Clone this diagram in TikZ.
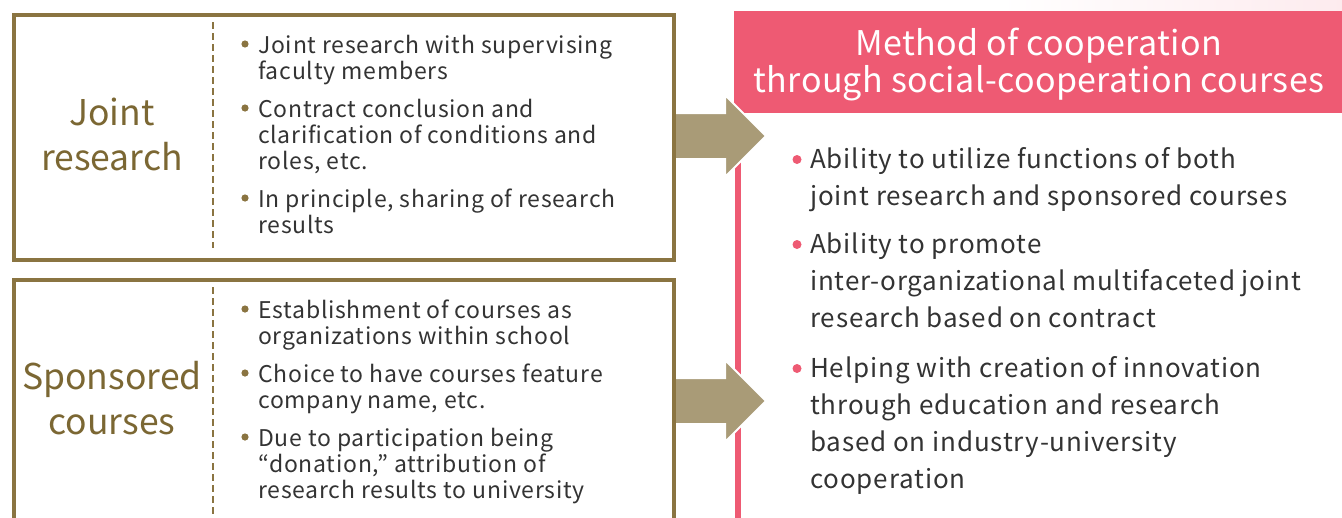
\documentclass[tikz,border=0pt]{standalone}
\usepackage{fontspec}
\setmainfont{Noto Sans CJK JP}
\newfontfamily\bodyf{Noto Sans CJK JP}[LetterSpace=3.3]
\newfontfamily\titf{Noto Sans CJK JP}[LetterSpace=1.0]
\usetikzlibrary{calc}
\definecolor{boxol}{HTML}{8A7441}
\definecolor{titleol}{HTML}{7B6733}
\definecolor{arrowol}{HTML}{A99B77}
\definecolor{pinkm}{HTML}{EE5A73}
\definecolor{txt}{HTML}{333333}
\begin{document}
\begin{tikzpicture}[x=1pt,y=-1pt,
  box/.style={draw=boxol, line width=4pt, minimum width=660pt, inner sep=0pt, anchor=north west},
  divider/.style={draw=boxol, line width=1.2pt, dash pattern=on 7pt off 4pt},
  headl/.style={text=titleol, font=\fontsize{35.5}{45}\selectfont, align=center, inner sep=0pt, anchor=base},
  item/.style={anchor=base west, inner sep=0pt, align=left, text=txt, font=\bodyf\fontsize{23}{26}\selectfont},
  ritem/.style={anchor=base west, inner sep=0pt, align=left, text=txt, font=\bodyf\fontsize{26}{37}\selectfont},
  obullet/.style={fill=boxol},
  pbullet/.style={fill=pinkm},
  bigarrow/.style={fill=arrowol, draw=white, line width=2pt, line join=miter},
  titlew/.style={text=white, font=\titf\fontsize{34}{37}\selectfont, align=center, inner sep=0pt, anchor=base}
]
\useasboundingbox (0,0) rectangle (1342,517);
\fill[left color=white, right color=pinkm!12] (1000,0) rectangle (1342,11);

% header and pink line
\node[fill=pinkm, minimum width=608pt, minimum height=102pt, inner sep=0pt, anchor=north west] (hdr) at (734,11) {};
\node[titlew] (title) at (1039,92) {Method of cooperation\\through social-cooperation courses};
\coordinate (pl) at (738,113);
\draw[pinkm, line width=6pt] (pl) -- (738,530);

% arrows
\coordinate (a1) at (672,136);
\coordinate (a2) at (672,401);
\foreach \a in {a1,a2}{
  \draw[bigarrow] ($(\a)+(0,-23)$) -- ++(53,0) -- ++(0,-18) -- ++(41,41) -- ++(-41,41) -- ++(0,-18) -- ++(-53,0);
}

% boxes
\node[box, minimum height=244.5pt] (box1) at (11.5,13) {};
\node[box, minimum height=260pt] (box2) at (11.5,278) {};
\draw[divider] (213,22) -- (213,248);
\draw[divider] (213,287) -- (213,530);

\node[headl] (jr) at (112,170) {Joint\\research};
\node[headl] (sc) at (112,434) {Sponsored\\courses};

% left items (anchored at the baseline of their last line)
\node[item] (j1) at (258,79) {Joint research with supervising\\faculty members};
\node[item] (j2) at (258,169) {Contract conclusion and\\clarification of conditions and\\roles, etc.};
\node[item] (j3) at (258,233) {In principle, sharing of research\\results};
\node[item] (s1) at (258,344) {Establishment of courses as\\organizations within school};
\node[item] (s2) at (258,408) {Choice to have courses feature\\company name, etc.};
\node[item] (s3) at (258,498) {Due to participation being\\“donation,” attribution of\\research results to university};
\foreach \n/\k in {j1/1,j2/2,j3/1,s1/1,s2/1,s3/2}{
  \fill[obullet] ([xshift=-13pt,yshift=9pt+\k*26pt]\n.base west) circle (3.6pt);
}

% right items
\node[ritem] (r1) at (810,205) {Ability to utilize functions of both\\joint research and sponsored courses};
\node[ritem] (r2) at (810,327) {Ability to promote\\inter-organizational multifaceted joint\\research based on contract};
\node[ritem] (r3) at (810,488) {Helping with creation of innovation\\through education and research\\based on industry-university\\cooperation};
\foreach \n/\k in {r1/1,r2/2,r3/3}{
  \fill[pbullet] ([xshift=-13pt,yshift=8.5pt+\k*37pt]\n.base west) circle (4.5pt);
}
\end{tikzpicture}
\end{document}
